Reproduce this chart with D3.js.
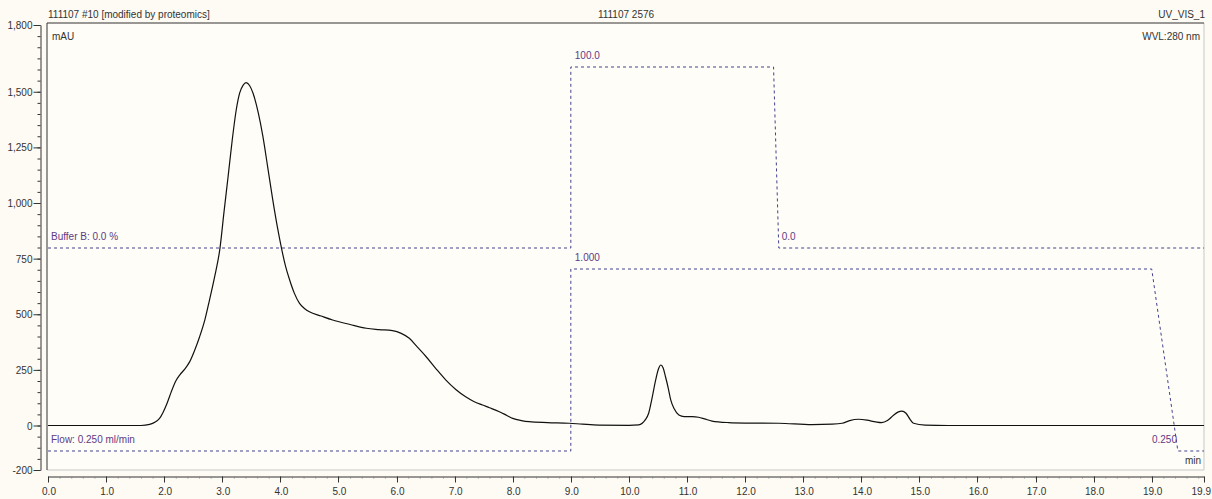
<!DOCTYPE html>
<meta charset="utf-8" />
<script src="https://d3js.org/d3.v7.min.js"></script>
<style>
  body {
    margin: 0;
    background: #fdfbf4;
  }
  text {
    font-family: "Liberation Sans", Arial, sans-serif;
  }
  .axis path,
  .axis line {
    stroke: #333;
  }
  .axis text {
    font-size: 10px;
    fill: #333;
  }
  .lbl {
    font-size: 10px;
    fill: #5e3a86;
  }
</style>
<title>111107 2576</title>
<body>
  <div id="chart"></div>
  <script>
    // UV trace (time in min, absorbance in mAU)
    var traceTime = [
      0, 1.0, 1.6, 1.75, 1.92, 2.05, 2.12, 2.2, 2.27, 2.35, 2.44, 2.52, 2.61,
      2.7, 2.78, 2.87, 2.96, 3.03, 3.1, 3.17, 3.24, 3.3, 3.36, 3.41, 3.47, 3.53,
      3.62, 3.7, 3.78, 3.87, 3.95, 4.02, 4.09, 4.16, 4.24, 4.33, 4.42, 4.5, 4.7,
      4.9, 5.2, 5.48, 5.7, 5.93, 6.08, 6.22, 6.36, 6.51, 6.68, 6.85, 7.02, 7.19,
      7.33, 7.48, 7.6, 7.77, 7.9, 8.0, 8.15, 8.28, 8.6, 8.97, 9.2, 9.48, 10.0,
      10.17, 10.28, 10.34, 10.4, 10.46, 10.51, 10.55, 10.59, 10.63, 10.68,
      10.72, 10.78, 10.86, 10.95, 11.09, 11.2, 11.3, 11.43, 11.72, 12.0, 12.58,
      13.15, 13.5, 13.67, 13.8, 13.95, 14.1, 14.25, 14.35, 14.45, 14.55, 14.63,
      14.7, 14.77, 14.84, 14.9, 15.1, 15.5, 19.9
    ];
    var traceMAU = [
      0, 0, 0, 5, 32, 100, 150, 200, 228, 252, 287, 335, 399, 475, 564, 670,
      796, 960, 1118, 1280, 1418, 1495, 1530, 1541, 1528, 1493, 1405, 1298,
      1165, 1013, 890, 796, 715, 654, 595, 549, 525, 511, 492, 474, 454, 437,
      431, 426, 414, 392, 352, 309, 255, 204, 162, 129, 108, 92, 80, 62, 45, 32,
      22, 17, 13, 10, 6, 2, 1, 3, 25, 55, 125, 204, 255, 272, 258, 219, 165,
      115, 75, 47, 40, 40, 37, 30, 20, 13, 11, 10, 4, 6, 10, 22, 28, 24, 16, 13,
      22, 45, 60, 65, 55, 28, 10, 2, 0, 0
    ];

    // gradient program
    var bufferTime = [0, 9.0, 9.0, 12.49, 12.58, 19.9];
    var bufferB = [0, 0, 100, 100, 0, 0];
    var flowTime = [0, 9.0, 9.0, 19.0, 19.45, 19.9];
    var flowRate = [0.25, 0.25, 1.0, 1.0, 0.25, 0.25];

    var yTicks = [-200, 0, 250, 500, 750, 1000, 1250, 1500, 1800];
    var xTicks = [
      0, 1, 2, 3, 4, 5, 6, 7, 8, 9, 10, 11, 12, 13, 14, 15, 16, 17, 18, 19, 19.9
    ];

    var width = 1212,
      height = 499;
    var frame = { left: 47, top: 23, right: 1204, bottom: 470 };

    var svg = d3
      .select("#chart")
      .append("svg")
      .attr("width", width)
      .attr("height", height);

    var x = d3.scaleLinear().domain([0, 19.9]).range([48, 1204]);
    var y = d3.scaleLinear().domain([-200, 1800]).range([470, 25]);
    // separate scales for the dashed gradient/flow curves
    var yB = d3.scaleLinear().domain([0, 100]).range([248, 67]);
    var yF = d3.scaleLinear().domain([0.25, 1.0]).range([451, 269]);

    // frame
    svg
      .append("rect")
      .attr("x", frame.left)
      .attr("y", frame.top)
      .attr("width", frame.right - frame.left)
      .attr("height", frame.bottom - frame.top)
      .style("fill", "#fefdf7")
      .style("stroke", "none");
    svg
      .append("path")
      .attr(
        "d",
        "M" + frame.left + "," + frame.bottom + "H" + frame.right + "V" + frame.top
      )
      .style("stroke", "#c9c9c4")
      .style("fill", "none");
    svg
      .append("path")
      .attr(
        "d",
        "M" + frame.left + "," + frame.bottom + "V" + frame.top + "H" + frame.right
      )
      .style("stroke", "#333")
      .style("fill", "none");

    // Y axis
    var yAxis = svg
      .append("g")
      .attr("class", "axis")
      .attr("transform", "translate(40.5,0)");
    yAxis.call(
      d3
        .axisLeft(y)
        .tickValues(d3.range(-200, 1801, 50))
        .tickSize(3)
        .tickSizeOuter(0)
        .tickFormat("")
    );
    yAxis
      .selectAll(".major")
      .data(yTicks)
      .enter()
      .append("line")
      .attr("x1", -7)
      .attr("x2", 0)
      .attr("y1", function(d) {
        return y(d) + 0.5;
      })
      .attr("y2", function(d) {
        return y(d) + 0.5;
      });
    yAxis
      .selectAll(".tlabel")
      .data(yTicks)
      .enter()
      .append("text")
      .attr("x", -8)
      .attr("y", function(d) {
        return y(d) + 4;
      })
      .style("text-anchor", "end")
      .text(function(d) {
        return d3.format(",")(d).replace("\u2212", "-");
      });

    // X axis
    var xAxis = svg
      .append("g")
      .attr("class", "axis")
      .attr("transform", "translate(0,476.5)");
    xAxis.call(
      d3
        .axisBottom(x)
        .tickValues(d3.range(0, 19.9, 0.2))
        .tickSize(2)
        .tickSizeOuter(0)
        .tickFormat("")
    );
    xAxis.selectAll(".tick line").style("stroke", "#888");
    xAxis
      .selectAll(".major")
      .data(xTicks)
      .enter()
      .append("line")
      .attr("x1", function(d) {
        return Math.round(x(d)) + 0.5;
      })
      .attr("x2", function(d) {
        return Math.round(x(d)) + 0.5;
      })
      .attr("y1", 0)
      .attr("y2", 6);
    xAxis
      .selectAll(".tlabel")
      .data(xTicks)
      .enter()
      .append("text")
      .attr("x", function(d, i) {
        // last label would run past the page edge, pin it to the edge
        return i == xTicks.length - 1 ? width - 1 : x(d) + 1;
      })
      .attr("y", 18)
      .style("text-anchor", function(d, i) {
        return i == xTicks.length - 1 ? "end" : "middle";
      })
      .text(function(d) {
        return d3.format(".1f")(d);
      });

    // dashed gradient and flow
    var dash = "3,3";
    svg
      .append("path")
      .datum(d3.range(bufferTime.length))
      .attr(
        "d",
        d3
          .line()
          .x(function(i) {
            return x(bufferTime[i]);
          })
          .y(function(i) {
            return yB(bufferB[i]);
          })
      )
      .style("stroke", "#45428f")
      .style("stroke-dasharray", dash)
      .style("fill", "none");
    svg
      .append("path")
      .datum(d3.range(flowTime.length))
      .attr(
        "d",
        d3
          .line()
          .x(function(i) {
            return x(flowTime[i]);
          })
          .y(function(i) {
            return yF(flowRate[i]);
          })
      )
      .style("stroke", "#45428f")
      .style("stroke-dasharray", dash)
      .style("fill", "none");

    // baseline and UV trace
    svg
      .append("path")
      .datum(d3.range(traceTime.length))
      .attr(
        "d",
        d3
          .line()
          .curve(d3.curveMonotoneX)
          .x(function(i) {
            return x(traceTime[i]);
          })
          .y(function(i) {
            return y(traceMAU[i]);
          })
      )
      .style("stroke", "#111")
      .style("stroke-width", 1.2)
      .style("fill", "none");

    // header texts
    var head = svg.append("g").attr("class", "axis");
    head
      .append("text")
      .attr("x", 48)
      .attr("y", 18)
      .text("111107 #10 [modified by proteomics]");
    head
      .append("text")
      .attr("x", 626)
      .attr("y", 18)
      .style("text-anchor", "middle")
      .text("111107 2576");
    head
      .append("text")
      .attr("x", 1205)
      .attr("y", 18)
      .style("text-anchor", "end")
      .text("UV_VIS_1");
    head.append("text").attr("x", 52).attr("y", 40).text("mAU");
    head
      .append("text")
      .attr("x", 1200)
      .attr("y", 40)
      .style("text-anchor", "end")
      .text("WVL:280 nm");
    head
      .append("text")
      .attr("x", 1201)
      .attr("y", 464)
      .style("text-anchor", "end")
      .text("min");

    // program labels
    var lbl = svg.append("g");
    lbl
      .append("text")
      .attr("class", "lbl")
      .attr("x", 51)
      .attr("y", yB(0) - 8)
      .text("Buffer B: " + bufferB[0].toFixed(1) + " %");
    lbl
      .append("text")
      .attr("class", "lbl")
      .attr("x", x(9.0) + 4)
      .attr("y", yB(100) - 8)
      .text(bufferB[2].toFixed(1));
    lbl
      .append("text")
      .attr("class", "lbl")
      .attr("x", x(12.58) + 3)
      .attr("y", yB(0) - 8)
      .text(bufferB[4].toFixed(1));
    lbl
      .append("text")
      .attr("class", "lbl")
      .attr("x", 51)
      .attr("y", yF(0.25) - 8)
      .text("Flow: " + flowRate[0].toFixed(3) + " ml/min");
    lbl
      .append("text")
      .attr("class", "lbl")
      .attr("x", x(9.0) + 4)
      .attr("y", yF(1.0) - 8)
      .text(flowRate[2].toFixed(3));
    lbl
      .append("text")
      .attr("class", "lbl")
      .attr("x", 1177)
      .attr("y", yF(0.25) - 8)
      .style("text-anchor", "end")
      .text(flowRate[4].toFixed(3));
  </script>
</body>
